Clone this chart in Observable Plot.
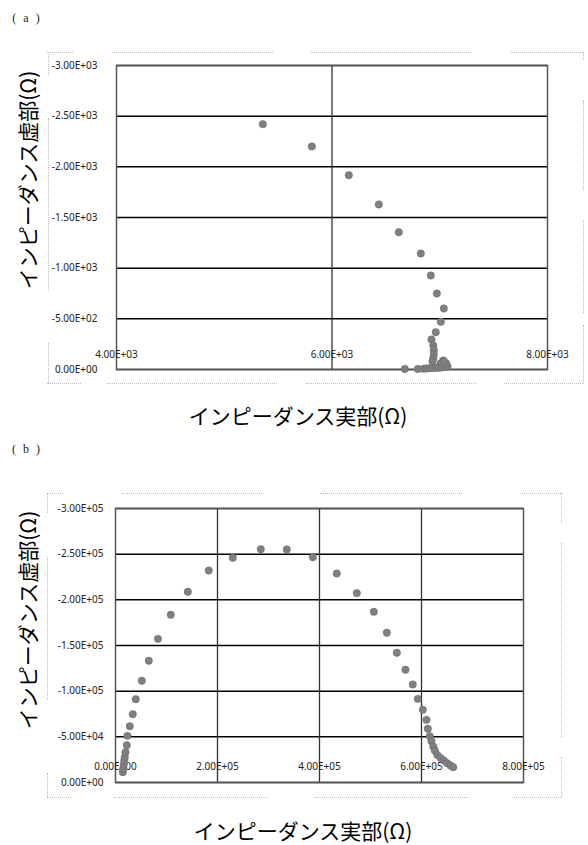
<!DOCTYPE html>
<html>
<head>
<meta charset="utf-8">
<script src="https://cdn.jsdelivr.net/npm/d3@7"></script>
<script src="https://cdn.jsdelivr.net/npm/@observablehq/plot@0.6"></script>
<style>
  body { margin: 0; background: #fff; }
  #root { position: relative; width: 588px; height: 845px; overflow: hidden; background: #fff; }
  .lbl { position: absolute; white-space: nowrap; color: #000; }
  .title { font-family: "Noto Sans CJK JP", sans-serif; font-size: 21px; }
  .tag { font-family: "Liberation Serif", serif; font-size: 12px; color: #222; letter-spacing: 2px; }
  .seg { position: absolute; }
</style>
</head>
<body>
<div id="root"></div>
<script>
// ---- Data: chart (a) ----
const realA = [5358, 5813, 6156, 6434, 6620, 6824, 6917, 6973, 7038, 7010, 6963, 6923, 6940, 6945, 6945, 6940, 6933, 7032, 7053, 7007, 7020, 6676, 6796, 6849, 6877, 6905, 6933, 6961, 6989, 7017, 7045, 7072, 7060, 7040];
const imagA = [-2421, -2201, -1918, -1629, -1355, -1145, -928, -750, -602, -471, -368, -296, -237, -190, -150, -112, -79, -89, -39, -59, -30, -5, -5, -8, -10, -12, -14, -16, -18, -20, -25, -30, -60, -80];
const xTicksA = [4000, 6000, 8000];
const yTicksA = [0, -500, -1000, -1500, -2000, -2500, -3000];

// ---- Data: chart (b) ----
const realB = [14300, 15100, 16300, 17100, 18200, 19600, 22200, 23500, 28000, 33900, 39800, 51600, 65300, 83300, 108400, 141800, 182900, 230000, 284900, 335900, 386900, 433900, 473100, 506500, 532000, 551600, 568600, 582900, 592700, 602600, 609800, 612400, 616300, 619600, 623000, 626100, 630800, 637300, 643700, 650400, 656900, 662200];
const imagB = [-11300, -15000, -19700, -24100, -27700, -33200, -40800, -51100, -61600, -74800, -91200, -111400, -133300, -157300, -183600, -208800, -232100, -246000, -255400, -255100, -246700, -228800, -207300, -186900, -163900, -142000, -123400, -107300, -91600, -79600, -68600, -58800, -50600, -45200, -39400, -35000, -30300, -27000, -24100, -21100, -18600, -16800];
const xTicksB = [0, 200000, 400000, 600000, 800000];
const yTicksB = [0, -50000, -100000, -150000, -200000, -250000, -300000];

const xTitle = "インピーダンス実部(Ω)";
const yTitle = "インピーダンス虚部(Ω)";

const fmt = d => {
  if (d === 0) return "0.00E+00";
  const [m, e] = d.toExponential(2).split("e");
  return m.toUpperCase() + "E" + e[0] + e.slice(1).padStart(2, "0");
};

const dataA = realA.map((re, i) => ({re, im: imagA[i]}));
const dataB = realB.map((re, i) => ({re, im: imagB[i]}));

const root = document.getElementById("root");

function makeChart(data, xDomain, yDomain, xTicks, yTicks, xGrid, opts) {
  const svg = Plot.plot({
    width: 588,
    height: opts.height,
    marginTop: opts.mt,
    marginBottom: opts.mb,
    marginLeft: opts.ml,
    marginRight: opts.mr,
    x: {domain: xDomain, axis: null},
    y: {domain: yDomain, axis: null},
    style: {fontFamily: "'Noto Sans', sans-serif", fontSize: "10px", background: "transparent", color: "#222"},
    marks: [
      Plot.gridY(yTicks, {stroke: "#000", strokeOpacity: 1, strokeWidth: 1.5}),
      Plot.gridX(xGrid, {stroke: "#333", strokeOpacity: 1, strokeWidth: 1.3}),
      Plot.frame({stroke: "#555", strokeWidth: 1.5}),
      Plot.axisY(yTicks, {tickSize: 0, tickPadding: opts.pad, tickFormat: fmt, label: null, fontSize: 10}),
      Plot.text(xTicks, {x: d => d, y: 0, dy: opts.xdy, text: fmt, fontSize: 10, fill: "#222"}),
      Plot.dot(data, {x: "re", y: "im", r: 3.7, fill: "#7f7f7f", stroke: "#6a6a6a", strokeWidth: 0.5})
    ]
  });
  svg.style.position = "absolute";
  svg.style.left = "0px";
  svg.style.top = opts.top + "px";
  root.appendChild(svg);
}

makeChart(dataA, [4000, 8000], [0, -3000], xTicksA, yTicksA, [6000],
  {height: 440, mt: 65, mb: 71, ml: 116, mr: 41, pad: 19, xdy: -15, top: 0});
makeChart(dataB, [0, 800000], [0, -300000], xTicksB, yTicksB, [200000, 400000, 600000],
  {height: 405, mt: 68, mb: 63, ml: 115, mr: 65, pad: 12, xdy: -16, top: 440});

function label(text, cls, cx, cy, rotate) {
  const d = document.createElement("div");
  d.className = "lbl " + cls;
  d.textContent = text;
  d.style.left = cx + "px";
  d.style.top = cy + "px";
  d.style.transform = "translate(-50%,-50%)" + (rotate ? " rotate(-90deg)" : "");
  root.appendChild(d);
  return d;
}
label("( a )", "tag", 27, 18, false);
label("( b )", "tag", 27, 449, false);
label(yTitle, "title", 27, 180, true);
label(xTitle, "title", 298, 415, false);
label(yTitle, "title", 27, 620, true);
label(xTitle, "title", 303, 830, false);

// Dotted chart-area borders (decoration)
function hseg(y, x1, x2) {
  const d = document.createElement("div");
  d.className = "seg";
  d.style.left = x1 + "px"; d.style.top = y + "px";
  d.style.width = (x2 - x1) + "px"; d.style.height = "0px";
  d.style.borderTop = "1px dotted #bdbdbd";
  root.appendChild(d);
}
function vseg(x, y1, y2) {
  const d = document.createElement("div");
  d.className = "seg";
  d.style.left = x + "px"; d.style.top = y1 + "px";
  d.style.height = (y2 - y1) + "px"; d.style.width = "0px";
  d.style.borderLeft = "1px dotted #bdbdbd";
  root.appendChild(d);
}
[[47,73],[112,273],[311,471],[511,583]].forEach(s => hseg(52, s[0], s[1]));
[[47,81],[107,277],[306,476],[504,583]].forEach(s => hseg(383, s[0], s[1]));
[[52,75],[118,290],[343,383]].forEach(s => vseg(48, s[0], s[1]));
[[52,60],[100,190],[220,313],[325,383]].forEach(s => vseg(583, s[0], s[1]));
[[47,63],[122,264],[320,462],[520,561]].forEach(s => hseg(493, s[0], s[1]));
[[47,71],[114,268],[315,469],[512,561]].forEach(s => hseg(797, s[0], s[1]));
[[493,513],[557,700],[773,797]].forEach(s => vseg(47, s[0], s[1]));
[[493,523],[543,737],[757,797]].forEach(s => vseg(561, s[0], s[1]));
</script>
</body>
</html>
